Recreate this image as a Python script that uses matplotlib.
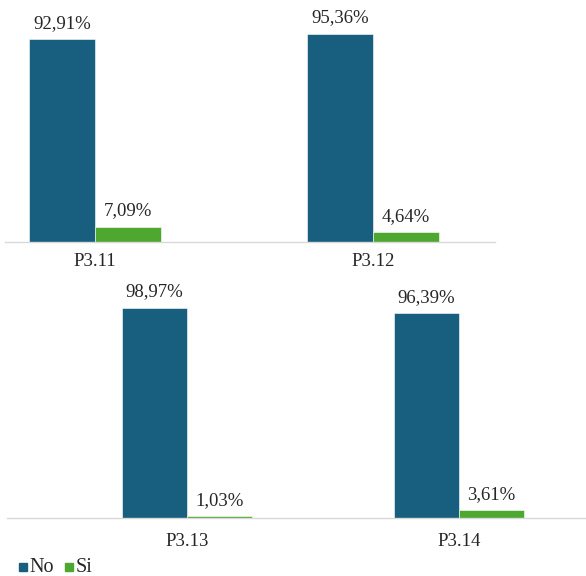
import matplotlib
matplotlib.use("Agg")
import matplotlib.pyplot as plt
from matplotlib.patches import Rectangle

plt.rcParams['font.family'] = ['Liberation Serif', 'DejaVu Serif']

top_categories = ["P3.11", "P3.12"]
top_no = [92.91, 95.36]
top_si = [7.09, 4.64]
bottom_categories = ["P3.13", "P3.14"]
bottom_no = [98.97, 96.39]
bottom_si = [1.03, 3.61]
series_names = ["No", "Si"]

C_NO = "#175E7F"
C_SI = "#4EA72E"
TXT = "#262626"

W, H = 586, 576
fig = plt.figure(figsize=(W / 100, H / 100), dpi=100)


def px_axes(left, top, right, bottom):
    return fig.add_axes([left / W, 1 - bottom / H, (right - left) / W, (bottom - top) / H])


def draw(ax, cats, no, si, xlim, bw, pad):
    x = list(range(len(cats)))
    b1 = ax.bar([i - bw / 2 for i in x], no, width=bw, color=C_NO, edgecolor="white", linewidth=0.4)
    b2 = ax.bar([i + bw / 2 for i in x], si, width=bw, color=C_SI, edgecolor="white", linewidth=0.4)
    for bars, vals in ((b1, no), (b2, si)):
        for r, v in zip(bars, vals):
            ax.annotate(f"{v:.2f}%".replace(".", ","),
                        (r.get_x() + r.get_width() / 2, v),
                        xytext=(0, 8), textcoords="offset points",
                        ha="center", va="baseline", fontsize=13.5, color=TXT,
                        annotation_clip=False)
    ax.set_xlim(*xlim)
    ax.set_ylim(0, 100)
    ax.set_xticks(x)
    ax.set_xticklabels(cats, fontsize=13.5, color=TXT)
    ax.tick_params(axis="x", length=0, pad=pad)
    ax.set_yticks([])
    for s in ("top", "left", "right"):
        ax.spines[s].set_visible(False)
    ax.spines["bottom"].set_color("#D9D9D9")
    ax.spines["bottom"].set_linewidth(1)
    ax.patch.set_alpha(0)


# top row: baseline y=242, 2.185 px per %
ax1 = px_axes(5, 242 - 218.5, 495, 242)
draw(ax1, top_categories, top_no, top_si, (-0.324, 1.439), 0.237, 8)

# bottom row: baseline y=518, 2.125 px per %
ax2 = px_axes(7, 518 - 212.5, 586, 518)
draw(ax2, bottom_categories, bottom_no, bottom_si, (-0.662, 1.467), 0.239, 10.5)

# legend (square markers + labels), pixel positions
legend_items = [(19, 29, C_NO, series_names[0]), (65, 76, C_SI, series_names[1])]
for sx, tx, col, name in legend_items:
    fig.patches.append(Rectangle((sx / W, 1 - 571 / H), 8 / W, 8 / H,
                                 transform=fig.transFigure, color=col))
    fig.text(tx / W, 1 - 572 / H, name, fontsize=14.5, color=TXT, ha="left", va="baseline")

fig.savefig("out.png", dpi=100)
